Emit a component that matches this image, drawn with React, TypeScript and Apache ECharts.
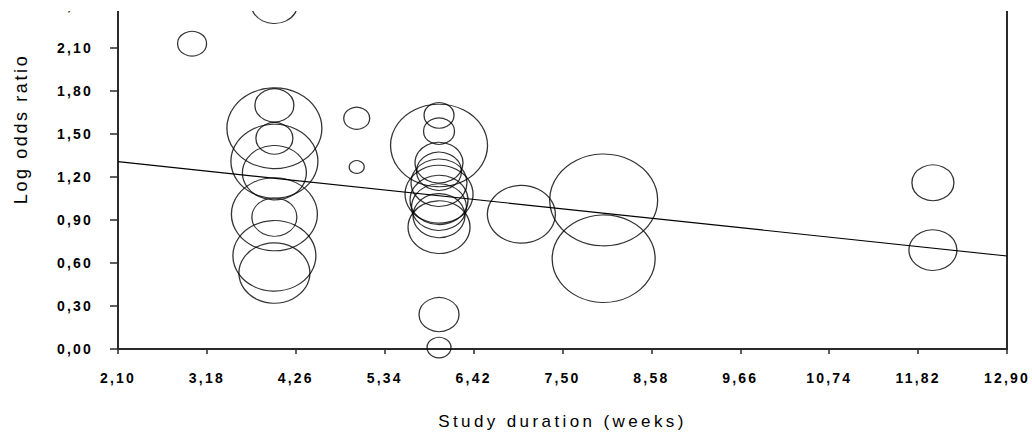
import React, { useEffect, useRef } from "react";
import * as echarts from "echarts";

// Meta-regression of log odds ratio on study duration (bubble = study weight)
const studyWeeks = [
  3,
  4, 4, 4, 4, 4, 4, 4, 4, 4, 4,
  5, 5,
  6, 6, 6, 6, 6, 6, 6, 6, 6, 6, 6, 6, 6,
  7,
  8, 8,
  12, 12,
];
const logOddsRatios = [
  2.13,
  2.41, 1.70, 1.54, 1.47, 1.31, 1.23, 0.94, 0.92, 0.65, 0.53,
  1.61, 1.27,
  1.63, 1.52, 1.42, 1.30, 1.24, 1.16, 1.08, 1.04, 0.99, 0.93, 0.85, 0.24, 0.01,
  0.94,
  1.04, 0.63,
  1.16, 0.69,
];
const studyWeights = [
  2.9,
  4.7, 3.9, 9.5, 3.7, 8.7, 6.4, 8.6, 4.5, 8.3, 7.1,
  2.6, 1.5,
  3.0, 3.1, 9.7, 4.8, 4.5, 5.6, 6.8, 5.8, 5.5, 5.2, 6.2, 4.0, 2.4,
  6.8,
  10.8, 10.3,
  4.2, 4.8,
];

// Fitted regression line, read at the two ends of the x range
const fitLine = [
  [2.1, 1.307],
  [12.9, 0.649],
];

const xMin = 2.1;
const xMax = 12.9;
const xStep = 1.08;
const yMin = 0;
const yMax = 3.0;
const yStep = 0.3;
// highest y tick that carries a label
const yLabelMax = 2.4;

const xName = "Study duration (weeks)";
const yName = "Log odds ratio";

const fmt = (v: number) => v.toFixed(2).replace(".", ",");

export default function App() {
  const ref = useRef<HTMLDivElement>(null);

  useEffect(() => {
    const el = ref.current;
    if (!el) return;
    const chart = echarts.init(el, undefined, { renderer: "svg" });

    const spaceText = () => {
      el.querySelectorAll("text").forEach((t) => {
        const s = t.textContent || "";
        const node = t as SVGTextElement;
        if (s === xName) node.style.letterSpacing = "3.4px";
        else if (s === yName) node.style.letterSpacing = "2.6px";
        else if (/^\d+,\d\d$/.test(s)) node.style.letterSpacing = "2.2px";
      });
    };
    chart.on("finished", spaceText);

    const bubbles = studyWeeks.map((w, i) => [w, logOddsRatios[i], studyWeights[i]]);
    const tickFont = {
      fontFamily: "Liberation Sans, Arial, sans-serif",
      fontWeight: "bold" as const,
      fontSize: 14,
      color: "#000",
    };
    const axisLine = { show: true, lineStyle: { color: "#2a2a2a", width: 2 } };

    chart.setOption({
      animation: false,
      backgroundColor: "#fff",
      grid: { left: 118, right: 25, top: 19, bottom: 90, show: false },
      xAxis: {
        type: "value",
        min: xMin,
        max: xMax,
        interval: xStep,
        name: xName,
        nameLocation: "middle",
        nameGap: 64,
        nameTextStyle: {
          fontFamily: "Liberation Sans, Arial, sans-serif",
          fontSize: 17,
          color: "#000",
        },
        axisLine,
        axisTick: { show: true, length: 5, lineStyle: { color: "#2a2a2a", width: 1.5 } },
        axisLabel: { ...tickFont, margin: 22, formatter: (v: number) => fmt(v) },
        splitLine: { show: false },
      },
      yAxis: [
        {
          type: "value",
          min: yMin,
          max: yMax,
          interval: yStep,
          name: yName,
          nameLocation: "middle",
          nameGap: 88,
          nameRotate: 90,
          nameTextStyle: {
            fontFamily: "Liberation Sans, Arial, sans-serif",
            fontSize: 18,
            color: "#000",
            padding: [0, 0, 0, 10],
          },
          axisLine,
          axisTick: { show: true, length: 8, lineStyle: { color: "#2a2a2a", width: 1.5 } },
          axisLabel: {
            ...tickFont,
            margin: 25,
            formatter: (v: number) => (v > yLabelMax + 1e-9 ? "" : fmt(v)),
          },
          splitLine: { show: false },
        },
        {
          type: "value",
          position: "right",
          min: yMin,
          max: yMax,
          interval: yStep,
          axisLine,
          axisTick: { show: false },
          axisLabel: { show: false },
          splitLine: { show: false },
        },
      ],
      series: [
        {
          type: "scatter",
          data: bubbles,
          clip: false,
          symbol: "circle",
          symbolSize: (v: number[]) => [v[2] * 10, v[2] * 10 * 0.85],
          itemStyle: { color: "rgba(0,0,0,0)", borderColor: "#000", borderWidth: 1.2 },
          emphasis: { disabled: true },
          silent: true,
        },
        {
          type: "line",
          data: fitLine,
          symbol: "none",
          lineStyle: { color: "#000", width: 1.2 },
          silent: true,
        },
      ],
    });
    spaceText();

    return () => {
      chart.dispose();
    };
  }, []);

  return (
    <div
      style={{
        position: "fixed",
        left: 0,
        top: 0,
        width: 1032,
        height: 439,
        overflow: "hidden",
        background: "#fff",
      }}
    >
      <div
        ref={ref}
        style={{ position: "absolute", left: 0, top: -100, width: 1032, height: 539 }}
      />
      <div
        style={{
          position: "absolute",
          left: 0,
          top: 0,
          width: 1032,
          height: 11,
          background: "#fff",
        }}
      />
    </div>
  );
}
